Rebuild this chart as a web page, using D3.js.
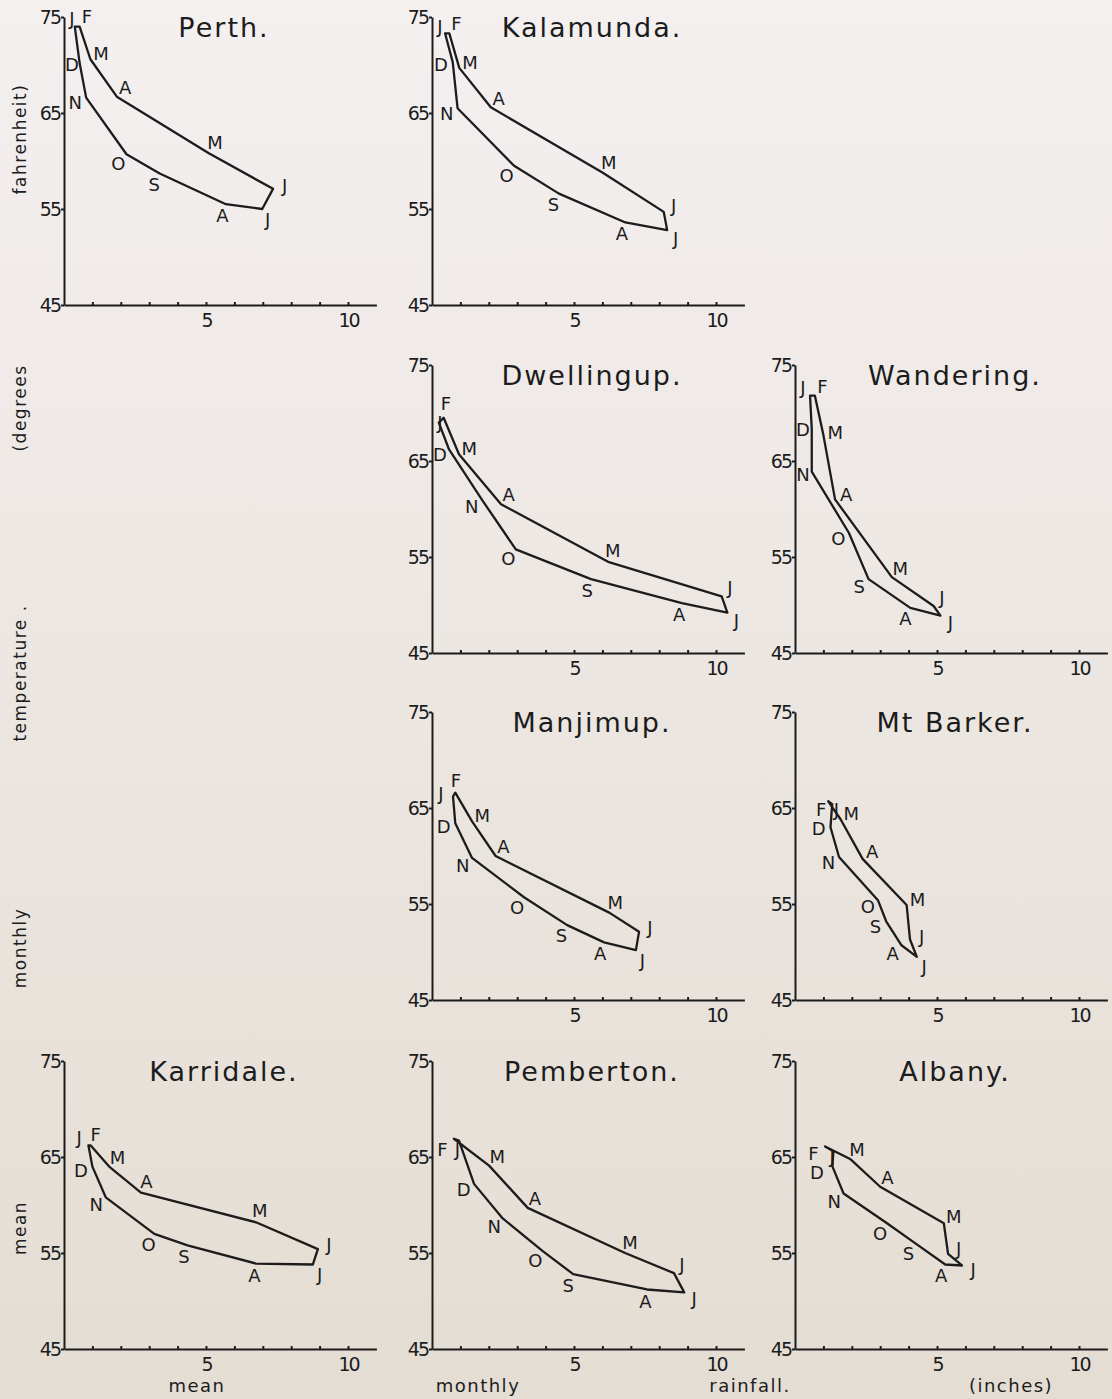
<!DOCTYPE html>
<html><head><meta charset="utf-8">
<script src="https://cdn.jsdelivr.net/npm/d3@7"></script>
<style>
html,body{margin:0;padding:0;background:#ece6e0;}
body{width:1112px;height:1399px;overflow:hidden;}
</style></head><body>
<svg id="chart" width="1112" height="1399"></svg>
<script>
// ---------- data ----------
const months = ["J","F","M","A","M","J","J","A","S","O","N","D"];
const stations = ["Perth.","Kalamunda.","Dwellingup.","Wandering.","Manjimup.","Mt Barker.","Karridale.","Pemberton.","Albany."];

const rainPerth      = [0.38, 0.55, 0.93, 1.86, 5.10, 7.36, 6.98, 5.70, 3.37, 2.20, 0.78, 0.55];
const tempPerth      = [74.0, 74.0, 70.6, 66.7, 60.8, 57.1, 55.0, 55.5, 58.7, 60.7, 66.6, 70.2];
const rainKalamunda  = [0.46, 0.61, 0.96, 2.07, 6.00, 8.16, 8.28, 6.81, 4.47, 2.89, 0.90, 0.73];
const tempKalamunda  = [73.3, 73.3, 69.7, 65.6, 58.8, 54.7, 52.8, 53.6, 56.6, 59.5, 65.5, 70.3];
const rainDwellingup = [0.24, 0.41, 0.95, 2.43, 6.20, 10.2, 10.4, 8.80, 5.60, 2.95, 1.75, 0.60];
const tempDwellingup = [69.0, 69.5, 65.7, 60.5, 54.5, 50.9, 49.2, 50.2, 52.7, 55.8, 61.0, 66.2];
const rainWandering  = [0.53, 0.70, 1.00, 1.41, 3.41, 4.88, 5.12, 4.06, 2.59, 1.90, 0.59, 0.59];
const tempWandering  = [71.8, 71.8, 67.7, 61.0, 52.9, 49.9, 48.9, 49.7, 52.7, 57.5, 63.9, 68.3];
const rainManjimup   = [0.74, 0.82, 1.41, 2.24, 6.24, 7.29, 7.18, 6.06, 4.76, 3.24, 1.41, 0.82];
const tempManjimup   = [66.2, 66.6, 63.6, 60.0, 54.1, 52.1, 50.2, 51.0, 52.8, 55.7, 59.8, 63.4];
const rainMtBarker   = [1.31, 1.17, 1.61, 2.38, 3.93, 4.05, 4.29, 3.75, 3.21, 2.92, 1.55, 1.25];
const tempMtBarker   = [65.4, 65.7, 63.8, 59.7, 54.9, 51.3, 49.5, 50.7, 53.2, 55.4, 59.9, 63.0];
const rainKarridale  = [0.86, 0.94, 1.59, 2.71, 6.76, 8.94, 8.76, 6.76, 4.35, 3.18, 1.47, 1.00];
const tempKarridale  = [66.2, 66.2, 64.0, 61.3, 58.2, 55.4, 53.8, 53.9, 55.8, 57.0, 60.8, 64.0];
const rainPemberton  = [0.95, 0.77, 2.01, 3.37, 6.80, 8.52, 8.88, 7.57, 4.97, 3.90, 2.49, 1.48];
const tempPemberton  = [66.7, 66.9, 64.1, 59.7, 55.0, 52.9, 50.9, 51.2, 52.8, 55.2, 58.6, 62.2];
const rainAlbany     = [1.35, 1.06, 1.94, 3.00, 5.24, 5.39, 5.88, 5.29, 4.24, 3.24, 1.71, 1.32];
const tempAlbany     = [65.6, 66.1, 64.8, 61.9, 58.1, 54.9, 53.7, 53.8, 56.0, 58.1, 61.2, 64.0];

const rainfall = [rainPerth, rainKalamunda, rainDwellingup, rainWandering, rainManjimup,
                  rainMtBarker, rainKarridale, rainPemberton, rainAlbany];
const temperature = [tempPerth, tempKalamunda, tempDwellingup, tempWandering, tempManjimup,
                     tempMtBarker, tempKarridale, tempPemberton, tempAlbany];

const yTicks = [45, 55, 65, 75];
const xTicks = [1,2,3,4,5,6,7,8,9,10];
const xTickLabels = [5, 10];
const leftTitleWords = ["fahrenheit)", "(degrees", "temperature .", "monthly", "mean"];
const bottomTitleWords = ["mean", "monthly", "rainfall.", "(inches)"];

// ---------- layout ----------
const W = 1112, H = 1399;
const colX = [64, 432, 795];
const rowBase = [305, 653, 1000, 1349];
const panelCell = [[0,0],[1,0],[1,1],[2,1],[1,2],[2,2],[0,3],[1,3],[2,3]];
const plotH = 288, inchPx = 28.4, xMax = 11;
const leftTitleY = [139, 408, 673, 948, 1228];
const bottomTitleX = [197, 478, 750, 1011];
const INK = "#1c1c1c";
const FONT = "'DejaVu Sans', sans-serif";
const LABEL_FS = 18;

const svg = d3.select("#chart");
const defs = svg.append("defs");
const grad = defs.append("linearGradient").attr("id","paper")
  .attr("x1",0).attr("y1",0).attr("x2",0).attr("y2",1);
grad.append("stop").attr("offset","0%").attr("stop-color","#f4f0f0");
grad.append("stop").attr("offset","45%").attr("stop-color","#ede7e3");
grad.append("stop").attr("offset","100%").attr("stop-color","#e4ddd3");
svg.append("rect").attr("width",W).attr("height",H).attr("fill","url(#paper)");

const x = d3.scaleLinear().domain([0, xMax]).range([0, xMax * inchPx]);
const y = d3.scaleLinear().domain([45, 75]).range([plotH, 0]);

stations.forEach((name, i) => {
  const [c, r] = panelCell[i];
  const g = svg.append("g").attr("transform", `translate(${colX[c]},${rowBase[r] - plotH})`);

  const ya = g.append("g").call(
    d3.axisLeft(y).tickValues(yTicks).tickSize(3).tickPadding(1).tickSizeOuter(0));
  const xa = g.append("g").attr("transform", `translate(0,${plotH})`).call(
    d3.axisBottom(x).tickValues(xTicks).tickSizeInner(-3).tickSizeOuter(0).tickPadding(9)
      .tickFormat(d => xTickLabels.includes(d) ? d : ""));
  [ya, xa].forEach(a => {
    a.selectAll("path,line").attr("stroke", INK).attr("stroke-width", 2);
    a.selectAll("text").attr("fill", INK)
      .style("font-family", FONT).style("font-size", "19px").style("letter-spacing", "-2px");
  });

  g.append("text")
    .attr("x", 160).attr("y", 20)
    .attr("text-anchor", "middle")
    .style("font-family", FONT).style("font-size", "27px").style("letter-spacing", "2px")
    .attr("fill", INK)
    .text(name);

  const pts = rainfall[i].map((rv, k) => [x(rv), y(temperature[i][k])]);
  g.append("path")
    .attr("d", d3.line()(pts) + "Z")
    .attr("fill", "none").attr("stroke", INK).attr("stroke-width", 2.3)
    .attr("stroke-linejoin", "round");

  // month labels placed along the outward normal of the loop
  let s = 0;
  for (let k = 0; k < pts.length; k++) {
    const a = pts[k], b = pts[(k + 1) % pts.length];
    s += a[0] * b[1] - b[0] * a[1];
  }
  const sgn = s > 0 ? 1 : -1;
  const outN = (a, b) => {
    const dx = b[0] - a[0], dy = b[1] - a[1];
    const L = Math.hypot(dx, dy) || 1;
    return [sgn * dy / L, -sgn * dx / L];
  };
  const n = pts.length;
  const labs = pts.map((p, k) => {
    const prev = pts[(k + n - 1) % n], next = pts[(k + 1) % n];
    const n1 = outN(prev, p), n2 = outN(p, next);
    let nx = n1[0] + n2[0], ny = n1[1] + n2[1];
    let L = Math.hypot(nx, ny);
    if (L < 0.3) { nx = n1[0]; ny = n1[1]; L = 1; }
    nx /= L; ny /= L;
    return { k, vx: p[0], vy: p[1], x: Math.max(8, p[0] + nx * 12), y: p[1] + ny * 12 };
  });
  // keep neighbouring labels in the same left-right order as their points
  for (let a = 0; a < n; a++) for (let b = a + 1; b < n; b++) {
    const A = labs[a], B = labs[b];
    if (Math.hypot(A.vx - B.vx, A.vy - B.vy) < 10 && Math.abs(A.y - B.y) < 12) {
      if ((A.vx - B.vx) * (A.x - B.x) < 0) { const t = A.x; A.x = B.x; B.x = t; }
    }
  }
  // simple collision relaxation
  const bw = 15, bh = 19;
  for (let it = 0; it < 40; it++) {
    for (let a = 0; a < n; a++) for (let b = a + 1; b < n; b++) {
      const A = labs[a], B = labs[b];
      const dx = B.x - A.x, dy = B.y - A.y;
      const ox = bw - Math.abs(dx), oy = bh - Math.abs(dy);
      if (ox > 0 && oy > 0) {
        if (ox <= oy) {
          let dir = Math.sign(dx) || Math.sign(B.vx - A.vx) || 1;
          A.x -= dir * ox / 2; B.x += dir * ox / 2;
        } else {
          let dir = Math.sign(dy) || Math.sign(B.vy - A.vy) || 1;
          A.y -= dir * oy / 2; B.y += dir * oy / 2;
        }
      }
    }
    labs.forEach(l => { l.x = Math.max(8, l.x); });
  }
  labs.forEach(l => {
    g.append("text")
      .attr("x", l.x).attr("y", l.y)
      .attr("text-anchor", "middle").attr("dominant-baseline", "central")
      .style("font-family", FONT).style("font-size", LABEL_FS + "px")
      .attr("fill", INK)
      .text(months[l.k]);
  });
});

leftTitleWords.forEach((w, k) => {
  svg.append("text")
    .attr("transform", `translate(26,${leftTitleY[k]}) rotate(-90)`)
    .attr("text-anchor", "middle")
    .style("font-family", FONT).style("font-size", "17px").style("letter-spacing", "1.5px")
    .attr("fill", INK)
    .text(w);
});
bottomTitleWords.forEach((w, k) => {
  svg.append("text")
    .attr("x", bottomTitleX[k]).attr("y", 1392)
    .attr("text-anchor", "middle")
    .style("font-family", FONT).style("font-size", "18px").style("letter-spacing", "1.5px")
    .attr("fill", INK)
    .text(w);
});
</script>
</body></html>
